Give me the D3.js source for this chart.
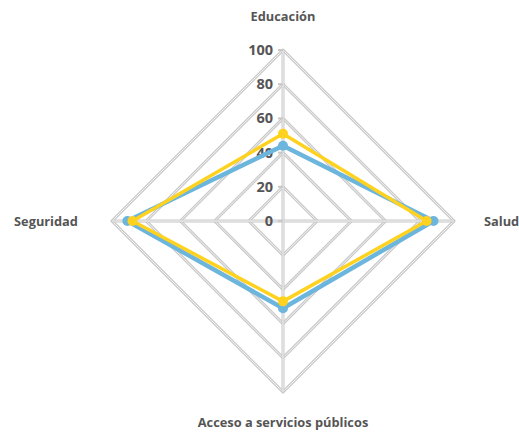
<!DOCTYPE html>
<html><head><meta charset="utf-8">
<script src="https://cdn.jsdelivr.net/npm/d3@7"></script>
<style>body{margin:0;background:#fff}svg{display:block}</style>
</head><body>
<svg id="c" width="519" height="433"></svg>
<script>
const categories = ["Educación", "Salud", "Acceso a servicios públicos", "Seguridad"];
const seriesBlue = [44, 88, 51, 91];
const seriesYellow = [51, 84, 47, 88];
const tickValues = [0, 20, 40, 60, 80, 100];

const svg = d3.select("#c");
const cx = 283, cy = 221;
const r = d3.scaleLinear().domain([0, 100]).range([0, 171]);
const angle = d3.scalePoint().domain(categories).range([0, 2 * Math.PI * 3 / 4]);
const pt = (c, v) => [cx + r(v) * Math.sin(angle(c)), cy - r(v) * Math.cos(angle(c))];

const g = svg.append("g");
tickValues.filter(t => t > 0).forEach(t => {
  const pts = categories.map(c => pt(c, t));
  const d = d3.line()(pts) + "Z";
  g.append("path").attr("d", d).attr("fill", "none").attr("stroke", "#c8c8c8").attr("stroke-width", 3).attr("stroke-linejoin", "round");
  g.append("path").attr("d", d).attr("fill", "none").attr("stroke", "#f4f4f4").attr("stroke-width", 1).attr("stroke-linejoin", "round");
});
categories.forEach(c => {
  const [x, y] = pt(c, 100);
  g.append("line").attr("x1", cx).attr("y1", cy).attr("x2", x).attr("y2", y).attr("stroke", "#c8c8c8").attr("stroke-width", 3);
  g.append("line").attr("x1", cx).attr("y1", cy).attr("x2", x).attr("y2", y).attr("stroke", "#f4f4f4").attr("stroke-width", 1);
});
tickValues.forEach(t => {
  const y = cy - r(t);
  g.append("line").attr("x1", cx - 5).attr("x2", cx).attr("y1", y).attr("y2", y).attr("stroke", "#c8c8c8").attr("stroke-width", 2);
  g.append("text").attr("x", cx - 10).attr("y", y).attr("dy", "0.35em").attr("text-anchor", "end")
    .attr("font-family", "Open Sans, sans-serif").attr("font-weight", 700).attr("font-size", 14.5).attr("fill", "#555").text(t);
});

function drawSeries(vals, color, w) {
  const pts = categories.map((c, i) => pt(c, vals[i]));
  svg.append("path").attr("d", d3.line()(pts) + "Z").attr("fill", "none").attr("stroke", color).attr("stroke-width", w).attr("stroke-linejoin", "round");
  svg.selectAll(null).data(pts).enter().append("circle").attr("cx", d => d[0]).attr("cy", d => d[1]).attr("r", 5).attr("fill", color);
}
drawSeries(seriesBlue, "#6cb6dd", 4.5);
drawSeries(seriesYellow, "#ffd21f", 3.5);

const labelPos = [[283, 17, "middle"], [484, 222, "start"], [283, 423, "middle"], [46, 222, "middle"]];
categories.forEach((c, i) => {
  const [x, y, a] = labelPos[i];
  svg.append("text").attr("x", x).attr("y", y).attr("dy", "0.35em").attr("text-anchor", a)
    .attr("font-family", "Open Sans, sans-serif").attr("font-weight", 700).attr("font-size", 12.8).attr("fill", "#555").text(c);
});
</script>
</body></html>
